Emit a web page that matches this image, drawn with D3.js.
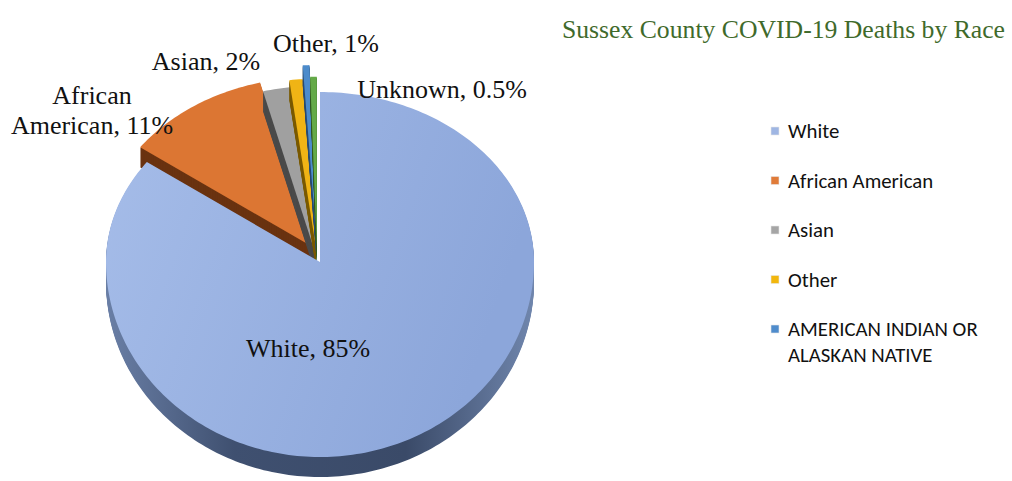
<!DOCTYPE html>
<html>
<head>
<meta charset="utf-8">
<script src="https://cdn.jsdelivr.net/npm/d3@7"></script>
<style>
  html, body { margin: 0; padding: 0; background: #fff; }
  svg { display: block; }
</style>
</head>
<body>
<svg id="chart" width="1012" height="481"></svg>
<script>
// Sussex County COVID-19 deaths by race — 3D exploded pie (Excel look)

const races  = ['White', 'African American', 'Asian', 'Other', 'AMERICAN INDIAN OR ALASKAN NATIVE', 'Unknown'];
const shares = [85, 11, 2, 1, 0.5, 0.5];
const labels = ['White, 85%', 'African|American, 11%', 'Asian, 2%', 'Other, 1%', '', 'Unknown, 0.5%'];
const legendItems = ['White', 'African American', 'Asian', 'Other', 'AMERICAN INDIAN OR|ALASKAN NATIVE'];

const TOP   = ['#9fb7e5', '#dc7633', '#a0a0a0', '#f0b415', '#4c8bcb', '#64aa48'];
const SIDE  = ['#3c4d6c', '#6a3311', '#4a4a4a', '#7a5a00', '#2a4d73', '#355d24'];
const LEG   = ['#9fb6e3', '#e07b39', '#a5a5a5', '#f2b70d', '#4f8ccc'];
const EXPL  = [0, 0.07, 0.024, 0.052, 0.106, 0.06];

const W = 1012, H = 481;
const cx = 320, cy = 262, rx = 214, ryTop = 170, ryBot = 195, depth = 20;

const svg = d3.select('#chart');
const defs = svg.append('defs');

const gTop = defs.append('linearGradient').attr('id', 'gWhite')
  .attr('x1', 0).attr('y1', 0).attr('x2', 1).attr('y2', 0.3);
gTop.append('stop').attr('offset', 0).attr('stop-color', '#a6bde9');
gTop.append('stop').attr('offset', 1).attr('stop-color', '#8ca6da');

const gSide = defs.append('linearGradient').attr('id', 'gWhiteSide')
  .attr('x1', 0).attr('y1', 0).attr('x2', 1).attr('y2', 0);
gSide.append('stop').attr('offset', 0).attr('stop-color', '#6a7fa6');
gSide.append('stop').attr('offset', 0.3).attr('stop-color', '#3f5070');
gSide.append('stop').attr('offset', 0.7).attr('stop-color', '#3a4a68');
gSide.append('stop').attr('offset', 1).attr('stop-color', '#7086ad');

// angle -> point on the tilted disc (clockwise from 12 o'clock)
const angle = d3.scaleLinear().domain([0, d3.sum(shares)]).range([0, 2 * Math.PI]);
function pt(a, f, ox, oy) {
  const c = Math.cos(a);
  const ry = c >= 0 ? ryTop : ryBot;
  return [cx + ox + rx * f * Math.sin(a), cy + oy - ry * f * c];
}
function slicePath(a0, a1, ox, oy, dy) {
  const n = Math.max(4, Math.ceil((a1 - a0) / 0.02));
  const p = d3.path();
  const c = pt(0, 0, ox, oy + dy);
  p.moveTo(c[0], c[1]);
  for (let i = 0; i <= n; i++) {
    const q = pt(a0 + (a1 - a0) * i / n, 1, ox, oy + dy);
    p.lineTo(q[0], q[1]);
  }
  p.closePath();
  return p.toString();
}

// explode: the tilted view pushes slices mostly up the page
const arcs = d3.pie().sort(null).value(d => d)(shares)
  .map((d, i) => {
    const a0 = angle(d3.sum(shares.slice(0, i)));
    const a1 = angle(d3.sum(shares.slice(0, i + 1)));
    const mid = (a0 + a1) / 2;
    const e = EXPL[i];
    return { i, a0, a1, ox: rx * e * Math.sin(mid) * 0.8 - (i > 1 ? 3 : 0), oy: -ryTop * e * Math.cos(mid) * 1.5 };
  });

// small slices in pie order (each one's left wall covers the previous), white last
const order = arcs.slice(1).concat([arcs[0]]);
const gPie = svg.append('g');
order.forEach(s => {
  const g = gPie.append('g');
  for (let k = depth; k >= 1; k--) {
    g.append('path')
      .attr('d', slicePath(s.a0, s.a1, s.ox, s.oy, k))
      .attr('fill', s.i === 0 ? 'url(#gWhiteSide)' : SIDE[s.i]);
  }
  g.append('path')
    .attr('d', slicePath(s.a0, s.a1, s.ox, s.oy, 0))
    .attr('fill', s.i === 0 ? 'url(#gWhite)' : TOP[s.i]);
});

// data labels (Excel positions were hand-placed)
const labelPos = [[308, 357], [92, 104], [206, 70], [326, 52], null, [442, 98]];
const gLab = svg.append('g')
  .attr('font-family', '"Liberation Serif", "Times New Roman", serif')
  .attr('font-size', 26).attr('fill', '#111').attr('text-anchor', 'middle');
labels.forEach((t, i) => {
  if (!t) return;
  const [x, y] = labelPos[i];
  const tx = gLab.append('text').attr('x', x).attr('y', y);
  t.split('|').forEach((line, j) => {
    tx.append('tspan').attr('x', x).attr('dy', j ? 30 : 0).text(line);
  });
});

// title
svg.append('text')
  .attr('x', 1005).attr('y', 38).attr('text-anchor', 'end')
  .attr('font-family', '"Liberation Serif", "Times New Roman", serif')
  .attr('font-size', 25.7).attr('fill', '#3f6a2b')
  .text('Sussex County COVID-19 Deaths by Race');

// legend
const leg = svg.append('g').attr('font-family', 'Carlito, "Open Sans", "Liberation Sans", sans-serif')
  .attr('font-size', 20.8).attr('fill', '#111');
const ly = d3.scalePoint().domain(legendItems).range([131, 329]);
legendItems.forEach((name, i) => {
  const y = ly(name);
  leg.append('rect').attr('x', 771).attr('y', y - 4).attr('width', 8).attr('height', 8)
    .attr('fill', LEG[i]).attr('stroke', '#e6e6e6').attr('stroke-width', 0.6);
  const t = leg.append('text').attr('x', 788).attr('y', y + 7);
  name.split('|').forEach((line, j) => {
    t.append('tspan').attr('x', 788).attr('dy', j ? 26 : 0).text(line);
  });
});
</script>
</body>
</html>
